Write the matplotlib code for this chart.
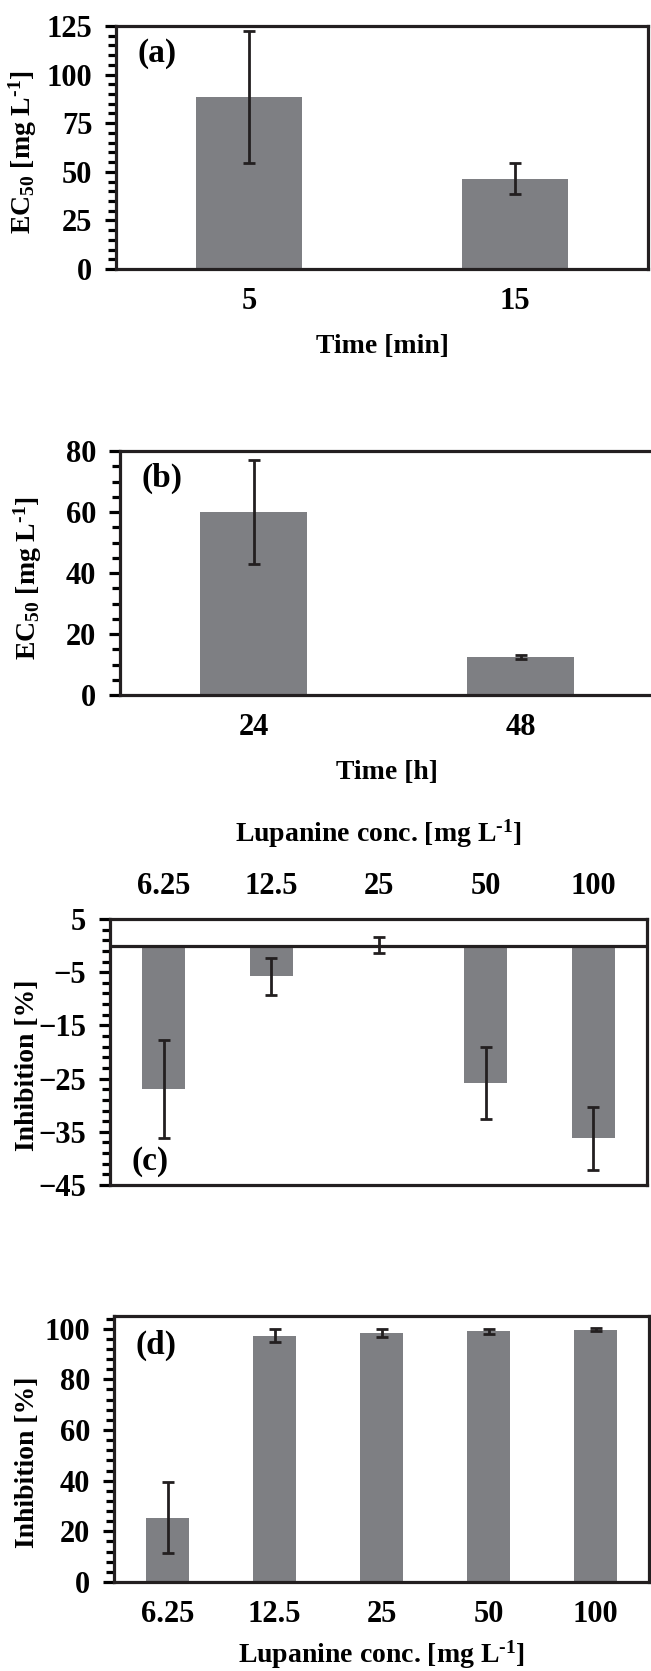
import numpy as np
import matplotlib
matplotlib.use('Agg')
import matplotlib.pyplot as plt

plt.rcParams['font.family'] = 'Liberation Serif'
plt.rcParams['font.weight'] = 'bold'
plt.rcParams['axes.labelweight'] = 'bold'
plt.rcParams['font.size'] = 22
plt.rcParams['axes.labelsize'] = 20
plt.rcParams['mathtext.fontset'] = 'custom'
plt.rcParams['mathtext.rm'] = 'Liberation Serif:bold'
plt.rcParams['mathtext.it'] = 'Liberation Serif:bold'
plt.rcParams['mathtext.bf'] = 'Liberation Serif:bold'
plt.rcParams['mathtext.default'] = 'rm'

# data
time_min = ['5', '15']
ec50_min = [88.5, 46.5]
ec50_min_err = [34.0, 8.0]

time_h = ['24', '48']
ec50_h = [60.0, 12.4]
ec50_h_err = [17.0, 0.7]

conc = ['6.25', '12.5', '25', '50', '100']
inhib_c = [-26.9, -5.8, 0.1, -25.8, -36.2]
inhib_c_err = [9.2, 3.5, 1.5, 6.8, 5.9]

inhib_d = [25.4, 97.2, 98.4, 98.9, 99.5]
inhib_d_err = [14.0, 2.6, 1.6, 1.1, 0.6]

BAR = '#7e7f83'
INK = '#231f20'
W, H = 651, 1671
fig = plt.figure(figsize=(W / 100, H / 100), dpi=100)


def make_ax(left, right, top, bottom):
    return fig.add_axes([left / W, 1 - bottom / H, (right - left) / W, (bottom - top) / H])


def style(ax):
    for s in ax.spines.values():
        s.set_linewidth(2.3)
        s.set_color(INK)
    ax.tick_params(axis='y', which='major', direction='out', length=8, width=2.3, pad=9)
    ax.tick_params(axis='y', which='minor', direction='out', length=6, width=2.3)
    ax.tick_params(axis='x', which='both', length=0, pad=13)


def bars(ax, labels, vals, errs):
    x = np.arange(len(labels))
    ax.bar(x, vals, width=0.4, color=BAR, zorder=2)
    ax.errorbar(x, vals, yerr=errs, fmt='none', ecolor=INK, elinewidth=2,
                capsize=4, capthick=2, zorder=3)
    ax.set_xticks(x)
    ax.set_xticklabels(labels)
    ax.set_xlim(-0.5, len(labels) - 0.5)


def panel_tag(ax, s, x, y, va):
    ax.text(x, y, s, transform=ax.transAxes, va=va, ha='left', fontsize=24)


ylab_ec = r'EC$_{50}$ [mg L$^{\text{-1}}$]'
xlab_conc = r'Lupanine conc. [mg L$^{\text{-1}}$]'

# (a)
ax = make_ax(116, 648, 26, 269)
bars(ax, time_min, ec50_min, ec50_min_err)
ax.set_ylim(0, 125)
ax.set_yticks(np.arange(0, 126, 25))
ax.set_yticks(np.arange(0, 126, 5), minor=True)
style(ax)
ax.set_xlabel('Time [min]', labelpad=13)
ax.set_ylabel(ylab_ec)
ax.yaxis.set_label_coords(-0.145, 0.48)
panel_tag(ax, '(a)', 0.04, 0.95, 'top')

# (b)
ax = make_ax(120, 654, 451, 695)
bars(ax, time_h, ec50_h, ec50_h_err)
ax.set_ylim(0, 80)
ax.set_yticks(np.arange(0, 81, 20))
ax.set_yticks(np.arange(0, 81, 5), minor=True)
style(ax)
ax.set_xlabel('Time [h]', labelpad=13)
ax.set_ylabel(ylab_ec)
ax.yaxis.set_label_coords(-0.142, 0.48)
panel_tag(ax, '(b)', 0.04, 0.95, 'top')

# (c)
ax = make_ax(110, 647, 919, 1185)
bars(ax, conc, inhib_c, inhib_c_err)
ax.axhline(0, color=INK, lw=2.3, zorder=4)
ax.set_ylim(-45, 5)
ax.set_yticks(np.arange(-45, 6, 10))
ax.set_yticks(np.arange(-45, 6, 2), minor=True)
style(ax)
ax.xaxis.tick_top()
ax.xaxis.set_label_position('top')
ax.set_xlabel(xlab_conc, labelpad=22)
ax.set_ylabel('Inhibition [%]')
ax.yaxis.set_label_coords(-0.13, 0.45)
panel_tag(ax, '(c)', 0.04, 0.03, 'bottom')

# (d)
ax = make_ax(114, 649, 1316, 1582)
bars(ax, conc, inhib_d, inhib_d_err)
ax.set_ylim(0, 105)
ax.set_yticks(np.arange(0, 101, 20))
ax.set_yticks(np.arange(0, 105, 4), minor=True)
style(ax)
ax.set_xlabel(xlab_conc, labelpad=7)
ax.set_ylabel('Inhibition [%]')
ax.yaxis.set_label_coords(-0.138, 0.45)
panel_tag(ax, '(d)', 0.04, 0.95, 'top')

fig.savefig('out.png', dpi=100)
